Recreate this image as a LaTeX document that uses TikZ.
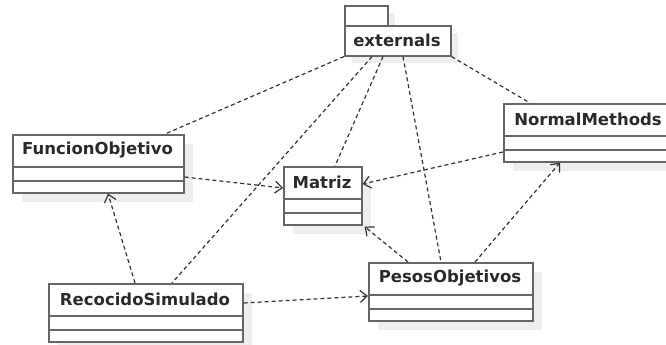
\documentclass[tikz,border=0pt]{standalone}
\usepackage{fontspec}
\setmainfont{DejaVu Sans}
\usetikzlibrary{arrows.meta}
\definecolor{boxc}{HTML}{666666}
\definecolor{txt}{HTML}{2A2A2A}
\definecolor{shadowc}{HTML}{EEEEEE}
\definecolor{linec}{HTML}{333333}
\tikzset{
  clsbox/.style={draw=boxc,line width=1.6pt,fill=white,rectangle,inner sep=0pt,anchor=north west},
  clstitle/.style={text=txt,font=\bfseries\fontsize{16.5}{20}\selectfont,inner sep=0pt},
  sepline/.style={draw=boxc,line width=1.6pt},
  dep/.style={draw=linec,line width=1.2pt,dash pattern=on 4pt off 3pt},
  deparr/.style={dep,-{Straight Barb[length=7pt,width=12pt,line width=1.2pt]}},
}
% name, x, y, width, title
\newcommand\umlclass[5]{%
  \fill[shadowc] (#2+10,#3+10) rectangle ++(#4,58);
  \node[clsbox,minimum width=#4 pt,minimum height=58pt] (#1) at (#2,#3) {};
  \node[clstitle] (#1-t) at (#2+#4/2,#3+16.5) {#5};
  \draw[sepline] (#2,#3+33) -- ++(#4,0);
  \draw[sepline] (#2,#3+47) -- ++(#4,0);
}
\begin{document}
\begin{tikzpicture}[x=1pt,y=-1pt]
\useasboundingbox (0,0) rectangle (666,345);
% package externals
\fill[shadowc] (352,13) rectangle (395,33);
\fill[shadowc] (352,33) rectangle (458,63);
\node[clsbox,minimum width=43pt,minimum height=20pt] (ext-tab) at (344,5) {};
\node[clsbox,minimum width=106pt,minimum height=30pt] (ext) at (344,25) {};
\node[clstitle] (ext-t) at (397,40) {externals};
% classes
\umlclass{fo}{12}{134}{171}{FuncionObjetivo}
\umlclass{mat}{283}{166}{78}{Matriz}
\umlclass{nm}{503}{103}{170}{NormalMethods}
\umlclass{rs}{48}{283}{194}{RecocidoSimulado}
\umlclass{po}{368}{262}{164}{PesosObjetivos}
% dependencies from externals
\draw[dep] (ext.south west) -- ([xshift=153pt]fo.north west);
\draw[dep] ([xshift=28pt]ext.south west) -- ([xshift=124pt]rs.north west);
\draw[dep] ([xshift=39pt]ext.south west) -- ([xshift=52pt]mat.north west);
\draw[dep] ([xshift=59pt]ext.south west) -- ([xshift=73pt]po.north west);
\draw[dep] (ext.south east) -- ([xshift=27pt]nm.north west);
% arrows
\draw[deparr] ([yshift=-43pt]fo.north east) -- ([yshift=-22pt]mat.north west);
\draw[deparr] ([yshift=-49pt]nm.north west) -- ([yshift=-18pt]mat.north east);
\draw[deparr] ([xshift=87pt]rs.north west) -- ([xshift=96pt]fo.south west);
\draw[deparr] ([yshift=-20pt]rs.north east) -- ([yshift=-34pt]po.north west);
\draw[deparr] ([xshift=40pt]po.north west) -- ([xshift=2pt,yshift=-1pt]mat.south east);
\draw[deparr] ([xshift=107pt]po.north west) -- ([xshift=57pt]nm.south west);
\end{tikzpicture}
\end{document}
